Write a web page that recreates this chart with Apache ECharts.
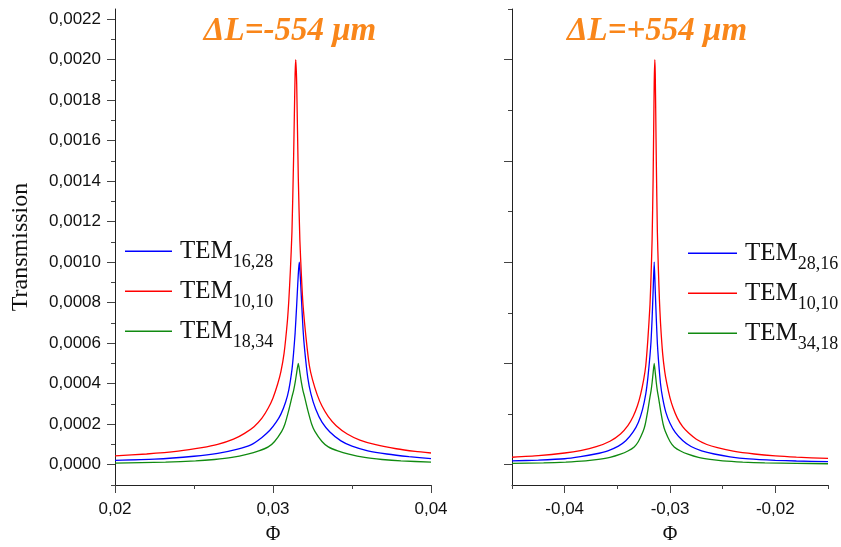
<!DOCTYPE html>
<html>
<head>
<meta charset="utf-8">
<script src="https://cdn.jsdelivr.net/npm/echarts@6/dist/echarts.min.js"></script>
<style>html,body{margin:0;padding:0;background:#fff}#c{width:841px;height:547px}</style>
</head>
<body>
<div id="c"></div>
<script>
// ---------- data (Φ, Transmission) ----------
const leftRed = [[0.0200,4.35e-5],[0.0220,5.3e-5],[0.0240,6.7e-5],[0.0255,8.4e-5],[0.0265,1.0e-4],[0.0275,1.26e-4],[0.0282,1.55e-4],[0.0288,1.88e-4],[0.0293,2.3e-4],[0.0297,2.8e-4],[0.0300,3.3e-4],[0.0303,4.0e-4],[0.0305,4.6e-4],[0.0307,5.5e-4],[0.0309,7.0e-4],[0.0310,8.1e-4],[0.0311,9.6e-4],[0.0312,1.15e-3],[0.0313,1.5e-3],[0.03135,1.72e-3],[0.0314,1.93e-3],[0.03144,2.0e-3],[0.0315,1.88e-3],[0.0316,1.42e-3],[0.0317,1.11e-3],[0.0318,9.3e-4],[0.0319,7.9e-4],[0.0321,6.2e-4],[0.0323,4.9e-4],[0.0325,4.2e-4],[0.0328,3.45e-4],[0.0331,2.9e-4],[0.0335,2.38e-4],[0.0340,1.93e-4],[0.0347,1.52e-4],[0.0355,1.22e-4],[0.0365,9.9e-5],[0.0378,7.9e-5],[0.0390,6.6e-5],[0.0400,5.8e-5]];
const leftBlue = [[0.0200,2.2e-5],[0.0225,2.75e-5],[0.0250,4.2e-5],[0.0265,5.6e-5],[0.0277,7.6e-5],[0.0286,9.8e-5],[0.0293,1.35e-4],[0.0298,1.7e-4],[0.0302,2.1e-4],[0.0305,2.5e-4],[0.0308,3.1e-4],[0.0310,3.7e-4],[0.0312,4.7e-4],[0.0313,5.5e-4],[0.0314,6.5e-4],[0.0315,7.9e-4],[0.0316,9.4e-4],[0.03166,1.0e-3],[0.0317,9.7e-4],[0.0318,8.2e-4],[0.0319,6.7e-4],[0.0320,5.7e-4],[0.0322,4.3e-4],[0.0324,3.5e-4],[0.0327,2.75e-4],[0.0331,2.1e-4],[0.0336,1.62e-4],[0.0343,1.18e-4],[0.0350,9.2e-5],[0.0360,6.9e-5],[0.0372,5.3e-5],[0.0386,4.0e-5],[0.0400,3.0e-5]];
const leftGreen = [[0.0200,8e-6],[0.0232,1.3e-5],[0.0251,1.9e-5],[0.0263,2.6e-5],[0.0274,3.6e-5],[0.0284,5.2e-5],[0.0291,6.8e-5],[0.0297,8.8e-5],[0.0301,1.15e-4],[0.03055,1.65e-4],[0.03075,2.0e-4],[0.0310,2.7e-4],[0.0312,3.35e-4],[0.0313,3.65e-4],[0.0314,4.05e-4],[0.0315,4.55e-4],[0.0316,5.0e-4],[0.0317,4.55e-4],[0.0318,4.05e-4],[0.0319,3.65e-4],[0.0320,3.35e-4],[0.0322,2.7e-4],[0.03245,2.0e-4],[0.03265,1.65e-4],[0.0331,1.15e-4],[0.0335,8.8e-5],[0.0341,6.8e-5],[0.0348,5.2e-5],[0.0358,3.6e-5],[0.0369,2.6e-5],[0.0381,1.9e-5],[0.0400,1.3e-5]];

const rightRed = [[-0.0450,3.7e-5],[-0.0425,4.5e-5],[-0.0400,5.8e-5],[-0.0385,7.0e-5],[-0.0370,8.9e-5],[-0.0357,1.16e-4],[-0.0347,1.52e-4],[-0.0340,1.93e-4],[-0.0335,2.38e-4],[-0.0331,2.9e-4],[-0.0328,3.45e-4],[-0.0325,4.2e-4],[-0.0323,4.9e-4],[-0.0321,6.2e-4],[-0.0319,7.9e-4],[-0.0318,9.3e-4],[-0.0317,1.11e-3],[-0.0316,1.42e-3],[-0.0315,1.88e-3],[-0.03144,2.0e-3],[-0.0314,1.93e-3],[-0.03135,1.72e-3],[-0.0313,1.5e-3],[-0.0312,1.15e-3],[-0.0311,9.6e-4],[-0.0310,8.1e-4],[-0.0309,7.0e-4],[-0.0307,5.5e-4],[-0.0305,4.6e-4],[-0.0303,4.0e-4],[-0.0300,3.3e-4],[-0.0297,2.8e-4],[-0.0293,2.3e-4],[-0.0288,1.88e-4],[-0.0282,1.55e-4],[-0.0275,1.26e-4],[-0.0265,1.0e-4],[-0.0255,8.4e-5],[-0.0240,6.7e-5],[-0.0220,5.3e-5],[-0.0200,4.35e-5],[-0.0180,3.75e-5],[-0.0150,3.1e-5]];
const rightBlue = [[-0.0450,1.9e-5],[-0.0425,2.3e-5],[-0.0400,2.95e-5],[-0.0385,4.0e-5],[-0.0371,5.3e-5],[-0.0359,6.9e-5],[-0.0349,9.2e-5],[-0.0342,1.18e-4],[-0.0335,1.62e-4],[-0.0330,2.1e-4],[-0.0326,2.75e-4],[-0.0323,3.5e-4],[-0.0321,4.3e-4],[-0.0319,5.4e-4],[-0.0318,6.1e-4],[-0.0317,7.2e-4],[-0.0316,8.6e-4],[-0.0315,1.0e-3],[-0.0314,8.6e-4],[-0.0313,7.2e-4],[-0.0312,6.0e-4],[-0.0311,5.2e-4],[-0.0309,4.0e-4],[-0.0307,3.3e-4],[-0.0304,2.6e-4],[-0.0300,2.05e-4],[-0.0295,1.6e-4],[-0.0288,1.2e-4],[-0.0280,9.0e-5],[-0.0270,6.9e-5],[-0.0258,5.3e-5],[-0.0243,3.9e-5],[-0.0225,2.9e-5],[-0.0200,2.2e-5],[-0.0180,1.85e-5],[-0.0150,1.5e-5]];
const rightGreen = [[-0.0450,6.5e-6],[-0.0420,9e-6],[-0.0399,1.3e-5],[-0.0380,1.9e-5],[-0.0368,2.6e-5],[-0.0357,3.6e-5],[-0.0347,5.2e-5],[-0.0340,6.8e-5],[-0.0334,8.8e-5],[-0.0330,1.15e-4],[-0.03255,1.65e-4],[-0.03235,2.0e-4],[-0.0321,2.7e-4],[-0.0319,3.35e-4],[-0.0318,3.65e-4],[-0.0317,4.05e-4],[-0.0316,4.55e-4],[-0.0315,5.0e-4],[-0.0314,4.55e-4],[-0.0313,4.05e-4],[-0.0312,3.65e-4],[-0.0311,3.35e-4],[-0.0309,2.7e-4],[-0.03065,2.0e-4],[-0.03045,1.65e-4],[-0.0300,1.15e-4],[-0.0296,8.8e-5],[-0.0290,6.8e-5],[-0.0283,5.2e-5],[-0.0273,3.6e-5],[-0.0262,2.6e-5],[-0.0250,1.9e-5],[-0.0231,1.3e-5],[-0.0210,9e-6],[-0.0180,7e-6],[-0.0150,5e-6]];

const leftNames = ['TEM_16,28', 'TEM_10,10', 'TEM_18,34'];
const rightNames = ['TEM_28,16', 'TEM_10,10', 'TEM_34,18'];
const titles = ['ΔL=-554 μm', 'ΔL=+554 μm'];

const leftYMajor = [0,0.0002,0.0004,0.0006,0.0008,0.0010,0.0012,0.0014,0.0016,0.0018,0.0020,0.0022];
const leftYMinor = [-0.0001,0.0001,0.0003,0.0005,0.0007,0.0009,0.0011,0.0013,0.0015,0.0017,0.0019,0.0021];
const rightYMajor = [0,0.0005,0.0010,0.0015,0.0020];
const rightYMinor = [0.00025,0.00075,0.00125,0.00175,0.00225];
const leftXMajor = [0.02,0.03,0.04];
const leftXMinor = [0.025,0.035];
const rightXMajor = [-0.04,-0.03,-0.02];
const rightXMinor = [-0.045,-0.035,-0.025,-0.015];

// ---------- styles ----------
const SERIF = 'Liberation Serif';
const SANS = 'Liberation Sans';
const AX = '#222';
const colors = ['#0000ff', '#ff0000', '#108a10'];
const Y_MIN = -0.0001, Y_MAX = 0.00225;

const chart = echarts.init(document.getElementById('c'), null, {renderer: 'canvas'});

function fmt(d) { return v => (v < 0 ? '-' : '') + Math.abs(v).toFixed(d).replace('.', ','); }

function xAxisMain(grid, min, max, major, name) {
  return {
    type: 'value', gridIndex: grid, min: min, max: max, position: 'bottom',
    axisLine: {show: true, onZero: false, lineStyle: {color: AX, width: 1}},
    axisTick: {show: true, customValues: major, length: 8, lineStyle: {color: '#444'}},
    axisLabel: {customValues: major, formatter: fmt(2), fontFamily: SANS, fontSize: 17, color: '#111', margin: 16},
    splitLine: {show: false},
    name: name, nameLocation: 'middle', nameGap: 40,
    nameTextStyle: {fontFamily: SERIF, fontSize: 20, color: '#111'}
  };
}
function xAxisMinor(grid, min, max, minor) {
  return {
    type: 'value', gridIndex: grid, min: min, max: max, position: 'bottom', offset: 0,
    axisLine: {show: false, onZero: false},
    axisTick: {show: true, customValues: minor, length: 4, lineStyle: {color: '#444'}},
    axisLabel: {show: false}, splitLine: {show: false}
  };
}
function yAxisMain(grid, major, labels, name) {
  return {
    type: 'value', gridIndex: grid, min: Y_MIN, max: Y_MAX, position: 'left',
    axisLine: {show: true, onZero: false, lineStyle: {color: AX, width: 1}},
    axisTick: {show: true, customValues: major, length: 8, lineStyle: {color: '#444'}},
    axisLabel: labels ? {customValues: major, formatter: fmt(4), fontFamily: SANS, fontSize: 17, color: '#111', margin: 14} : {show: false},
    splitLine: {show: false},
    name: name || '', nameLocation: 'middle', nameGap: 82,
    nameTextStyle: {fontFamily: SERIF, fontSize: 24, color: '#111'}
  };
}
function yAxisMinor(grid, minor) {
  return {
    type: 'value', gridIndex: grid, min: Y_MIN, max: Y_MAX, position: 'left', offset: 0,
    axisLine: {show: false, onZero: false},
    axisTick: {show: true, customValues: minor, length: 4, lineStyle: {color: '#444'}},
    axisLabel: {show: false}, splitLine: {show: false}
  };
}

function legendFmt(name) {
  const p = name.split('_');
  return '{a|' + p[0] + '}{b|' + p[1] + '}';
}
const legendRich = {
  a: {fontFamily: SERIF, fontSize: 25, lineHeight: 25, color: '#111', verticalAlign: 'bottom', padding: [3, 0, 7, 3]},
  b: {fontFamily: SERIF, fontSize: 18, lineHeight: 18, color: '#111', verticalAlign: 'bottom'}
};
// legend line drawn at the top of a 16px-high icon box, so it sits level with "TEM"
const iconL = 'path://M0,0L47,0L47,1.6L0,1.6Z M0,15.99L0.01,15.99L0.01,16L0,16Z';
const iconR = 'path://M0,0L49,0L49,1.6L0,1.6Z M0,15.99L0.01,15.99L0.01,16L0,16Z';

function mkSeries(name, data, xi, yi, color) {
  return {
    type: 'line', name: name, data: data, xAxisIndex: xi, yAxisIndex: yi,
    showSymbol: false, symbol: 'none', smooth: 0.2,
    lineStyle: {color: color, width: 1.3}, itemStyle: {color: color},
    emphasis: {disabled: true}, animation: false
  };
}

const option = {
  animation: false,
  grid: [
    {left: 115, top: 9, width: 316, height: 476, outerBoundsMode: 'none', containLabel: false},
    {left: 512, top: 9, width: 316, height: 476, outerBoundsMode: 'none', containLabel: false}
  ],
  xAxis: [
    xAxisMain(0, 0.02, 0.04, leftXMajor, 'Φ'),
    xAxisMain(1, -0.045, -0.015, rightXMajor, 'Φ'),
    xAxisMinor(0, 0.02, 0.04, leftXMinor),
    xAxisMinor(1, -0.045, -0.015, rightXMinor)
  ],
  yAxis: [
    yAxisMain(0, leftYMajor, true, 'Transmission'),
    yAxisMain(1, rightYMajor, false, ''),
    yAxisMinor(0, leftYMinor),
    yAxisMinor(1, rightYMinor)
  ],
  legend: [
    {data: leftNames, left: 125, top: 236, padding: 0, orient: 'vertical', itemGap: 5, itemWidth: 47, itemHeight: 16, icon: iconL,
     formatter: legendFmt, textStyle: {rich: legendRich}, selectedMode: false},
    {data: rightNames, left: 688, top: 238, padding: 0, orient: 'vertical', itemGap: 5, itemWidth: 49, itemHeight: 16, icon: iconR,
     formatter: legendFmt, textStyle: {rich: legendRich}, selectedMode: false}
  ],
  graphic: [
    {type: 'text', x: 290, y: 31, style: {text: titles[0], fill: '#f9861a', font: 'italic bold 33px "Liberation Serif"', textAlign: 'center', textVerticalAlign: 'middle'}},
    {type: 'text', x: 657, y: 31, style: {text: titles[1], fill: '#f9861a', font: 'italic bold 33px "Liberation Serif"', textAlign: 'center', textVerticalAlign: 'middle'}}
  ],
  series: [
    mkSeries(leftNames[0], leftBlue, 0, 0, colors[0]),
    mkSeries(leftNames[1], leftRed, 0, 0, colors[1]),
    mkSeries(leftNames[2], leftGreen, 0, 0, colors[2]),
    mkSeries(rightNames[0], rightBlue, 1, 1, colors[0]),
    mkSeries(rightNames[1], rightRed, 1, 1, colors[1]),
    mkSeries(rightNames[2], rightGreen, 1, 1, colors[2])
  ]
};
chart.setOption(option);
</script>
</body>
</html>
